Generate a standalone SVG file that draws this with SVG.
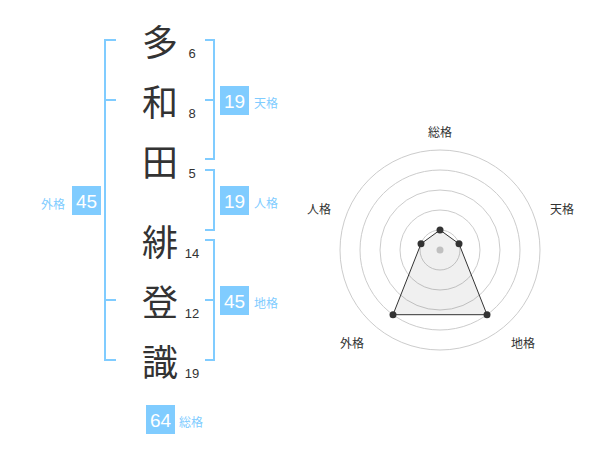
<svg xmlns="http://www.w3.org/2000/svg" width="600" height="470" viewBox="0 0 600 470">
<style>
.ch{font-family:"Noto Sans CJK JP","Liberation Sans",sans-serif;font-size:36px;fill:#333;text-anchor:middle;dominant-baseline:central}
.num{font-family:"Liberation Sans",sans-serif;font-size:13px;fill:#333;text-anchor:middle;dominant-baseline:central}
.br{fill:none;stroke:#80ccff;stroke-width:2}
.box{fill:#80ccff}
.bn{font-family:"Liberation Sans",sans-serif;font-size:19px;fill:#fff;text-anchor:middle;dominant-baseline:central}
.lb{font-family:"Noto Sans CJK JP",sans-serif;font-size:12px;fill:#80ccff;dominant-baseline:central}
.ring{fill:none;stroke:#ccc;stroke-width:1}
.ax{font-family:"Noto Sans CJK JP",sans-serif;font-size:12px;fill:#333;text-anchor:middle;dominant-baseline:central}
.dot{fill:#333}
</style>
<rect width="600" height="470" fill="#fff"/>
<g id="chars">
<text class="ch" x="160" y="40">多</text><text class="num" x="192" y="53">6</text>
<text class="ch" x="160" y="100">和</text><text class="num" x="192" y="113">8</text>
<text class="ch" x="160" y="160">田</text><text class="num" x="192" y="173">5</text>
<text class="ch" x="160" y="240">緋</text><text class="num" x="192" y="253">14</text>
<text class="ch" x="160" y="300">登</text><text class="num" x="192" y="313">12</text>
<text class="ch" x="160" y="360">識</text><text class="num" x="192" y="373">19</text>
</g>
<g id="connectors">
<path class="br" d="M116,40H105V360H116M105,100H116M105,300H116"/>
<path class="br" d="M205,40H214V159H205M214,100H205"/>
<path class="br" d="M205,170H214V230H205"/>
<path class="br" d="M205,240H214V360H205M214,300H205"/>
</g>
<g id="gaikaku"><rect class="box" x="72" y="186" width="29" height="29"/><text class="bn" x="86.5" y="201">45</text><text class="lb" x="53" y="203" text-anchor="middle">外格</text></g>
<g id="tenkaku"><rect class="box" x="220" y="86" width="29" height="29"/><text class="bn" x="234.5" y="101">19</text><text class="lb" x="254" y="102">天格</text></g>
<g id="jinkaku"><rect class="box" x="220" y="186" width="29" height="29"/><text class="bn" x="234.5" y="201">19</text><text class="lb" x="254" y="202">人格</text></g>
<g id="chikaku"><rect class="box" x="220" y="286" width="29" height="29"/><text class="bn" x="234.5" y="301">45</text><text class="lb" x="254" y="302">地格</text></g>
<g id="soukaku"><rect class="box" x="146" y="405" width="29" height="29"/><text class="bn" x="160.5" y="420">64</text><text class="lb" x="179" y="421">総格</text></g>
<g id="radar">
<circle class="ring" cx="440" cy="250" r="20"/>
<circle class="ring" cx="440" cy="250" r="40"/>
<circle class="ring" cx="440" cy="250" r="60"/>
<circle class="ring" cx="440" cy="250" r="80"/>
<circle class="ring" cx="440" cy="250" r="100"/>
<circle cx="440" cy="250" r="3.5" fill="#ccc"/>
<polygon points="440,230 459,243.8 487,314.7 393,314.7 421,243.8" fill="#000" fill-opacity="0.06" stroke="#333" stroke-width="1"/>
<circle class="dot" cx="440" cy="230" r="3.5"/>
<circle class="dot" cx="459" cy="243.8" r="3.5"/>
<circle class="dot" cx="487" cy="314.7" r="3.5"/>
<circle class="dot" cx="393" cy="314.7" r="3.5"/>
<circle class="dot" cx="421" cy="243.8" r="3.5"/>
<text class="ax" x="440" y="131">総格</text>
<text class="ax" x="562" y="208">天格</text>
<text class="ax" x="523" y="342">地格</text>
<text class="ax" x="352" y="342">外格</text>
<text class="ax" x="319" y="208">人格</text>
</g>
</svg>
